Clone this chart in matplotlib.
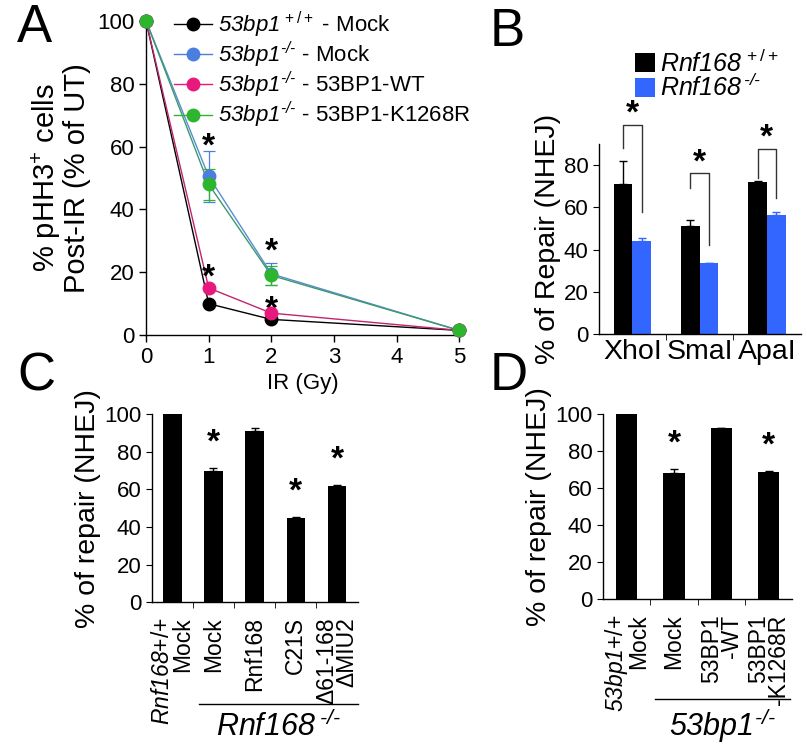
import numpy as np
import matplotlib
matplotlib.use("Agg")
import matplotlib.pyplot as plt

plt.rcParams['font.family'] = ['Liberation Sans', 'DejaVu Sans']
plt.rcParams['mathtext.fontset'] = 'custom'
plt.rcParams['mathtext.rm'] = 'Liberation Sans'
plt.rcParams['mathtext.it'] = 'Liberation Sans:italic'
plt.rcParams['mathtext.sf'] = 'Liberation Sans:italic'
plt.rcParams['mathtext.bf'] = 'Liberation Sans:bold'

HY = "\u2010"  # plain hyphen, avoids mathtext minus spacing
KO = r"^{\mathsf{" + HY + "/" + HY + "}}"

# ---- Panel A data ----
ir_dose = [0, 1, 2, 5]
a_labels = [r"$\mathsf{53bp1}^{\,+/+}$ - Mock",
            r"$\mathsf{53bp1}" + KO + "$ - Mock",
            r"$\mathsf{53bp1}" + KO + "$ - 53BP1-WT",
            r"$\mathsf{53bp1}" + KO + "$ - 53BP1-K1268R"]
a_wt_mock = [100, 10, 5, 1.5]
a_ko_mock = [100, 50.5, 19.5, 1.5]
a_ko_wt = [100, 15, 7, 1.5]
a_ko_k1268r = [100, 48, 19, 1.5]
a_ko_mock_err = [0, 8, 3.5, 0]
a_ko_k1268r_err = [0, 5, 3, 0]
a_colors = ['black', '#4a7fe0', '#e8197d', '#2db52d']
a_line_colors = ['black', '#5b8ad8', '#c2246f', '#3a9a6a']
a_star_x = [1, 1, 2, 2]
a_star_y = [60, 18, 26.5, 8]

# ---- Panel B data ----
enzymes = ['XhoI', 'SmaI', 'ApaI']
b_wt = [71, 51, 72]
b_wt_err = [11, 3, 0.5]
b_ko = [44, 33.5, 56.5]
b_ko_err = [1.5, 0.3, 1]
b_bracket_top = [99, 76, 87.5]
b_left_leg = [88, 69, 74]
b_right_leg = [57.5, 42, 64.5]

# ---- Panel C data ----
c_cats = [r"$\mathsf{Rnf168}$+/+" + "\nMock", "Mock", "Rnf168", "C21S",
          "\u039461-168\n\u0394MIU2"]
c_vals = [100, 70, 91, 45, 62]
c_err = [0, 1.5, 1.5, 0.3, 0.6]
c_star = [False, True, False, True, True]

# ---- Panel D data ----
d_cats = [r"$\mathsf{53bp1}$+/+" + "\nMock", "Mock", "53BP1\n-WT", "53BP1\n-K1268R"]
d_vals = [100, 68.5, 92.5, 69]
d_err = [0, 1.8, 0.3, 0.5]
d_star = [False, True, False, True]

fig = plt.figure(figsize=(8.07, 7.48), dpi=100)


def style_axes(ax):
    ax.spines['top'].set_visible(False)
    ax.spines['right'].set_visible(False)
    ax.spines['left'].set_linewidth(1.0)
    ax.spines['bottom'].set_linewidth(1.0)


# ---------------- Panel A ----------------
axA = fig.add_axes([0.181, 0.552, 0.388, 0.420])
series = [a_wt_mock, a_ko_mock, a_ko_wt, a_ko_k1268r]
errs = [None, a_ko_mock_err, None, a_ko_k1268r_err]
for i, (vals, lab) in enumerate(zip(series, a_labels)):
    axA.plot(ir_dose, vals, '-', color=a_line_colors[i], lw=1.0, zorder=2)
    if errs[i] is not None:
        axA.errorbar(ir_dose, vals, yerr=errs[i], fmt='none', ecolor=a_colors[i],
                     elinewidth=0.9, capsize=4, capthick=0.9, zorder=3, clip_on=False)
    axA.plot(ir_dose, vals, 'o', color=a_colors[i], ms=9, zorder=4, clip_on=False)
    axA.plot([], [], '-o', color=a_colors[i], ms=9, lw=1.0, label=lab)
for sx, sy in zip(a_star_x, a_star_y):
    axA.text(sx, sy, '*', ha='center', va='center', fontsize=24, fontweight='bold')
axA.set_xlim(0, 5)
axA.set_ylim(0, 100)
axA.set_xticks([0, 1, 2, 3, 4, 5])
axA.set_yticks([0, 20, 40, 60, 80, 100])
axA.tick_params(labelsize=16, direction='out', length=5, width=1)
axA.set_xlabel('IR (Gy)', fontsize=16, labelpad=4)
axA.set_ylabel("% pHH3$^{+}$ cells\nPost-IR (% of UT)", fontsize=21, labelpad=4,
               linespacing=1.0)
style_axes(axA)
axA.legend(loc='upper left', bbox_to_anchor=(0.06, 1.065), frameon=False, fontsize=16,
           handlelength=1.7, handletextpad=0.3, labelspacing=0.0, borderaxespad=0)
fig.text(0.021, 0.962, 'A', fontsize=38, va='center')

# ---------------- Panel B ----------------
axB = fig.add_axes([0.742, 0.553, 0.250, 0.255])
xb = np.arange(len(enzymes))
bw = 0.28
axB.bar(xb - bw / 2, b_wt, bw, yerr=[np.zeros(3), b_wt_err], color='black',
        error_kw=dict(ecolor='black', elinewidth=1, capsize=3),
        label=r"$\mathsf{Rnf168}^{\,+/+}$")
axB.bar(xb + bw / 2, b_ko, bw, yerr=[np.zeros(3), b_ko_err], color='#3366ff',
        error_kw=dict(ecolor='#3366ff', elinewidth=1, capsize=3),
        label=r"$\mathsf{Rnf168}^{\,\mathsf{" + HY + "/" + HY + "}}$")
for i in range(len(enzymes)):
    xl, xr = xb[i] - bw / 2, xb[i] + bw / 2
    axB.plot([xl, xl, xr, xr], [b_left_leg[i], b_bracket_top[i], b_bracket_top[i], b_right_leg[i]],
             color='#333333', lw=1, clip_on=False)
    axB.text(xb[i], b_bracket_top[i] + 5, '*', ha='center', va='center', fontsize=24,
             fontweight='bold')
axB.set_xlim(-0.5, 2.5)
axB.set_ylim(0, 90)
axB.set_yticks([0, 20, 40, 60, 80])
axB.set_xticks(xb)
axB.set_xticklabels(enzymes, fontsize=20.5)
axB.set_xticks([0.5, 1.5], minor=True)
axB.tick_params(axis='x', which='major', length=0, pad=3)
axB.tick_params(axis='x', which='minor', length=4, direction='out')
axB.tick_params(axis='y', labelsize=16, length=4, direction='out')
axB.set_ylabel('% of Repair (NHEJ)', fontsize=20.5, labelpad=2)
style_axes(axB)
axB.legend(loc='lower left', bbox_to_anchor=(0.13, 1.17), frameon=False, fontsize=18,
           handlelength=0.8, handleheight=0.8, handletextpad=0.2, labelspacing=-0.1,
           borderaxespad=0)
fig.text(0.607, 0.957, 'B', fontsize=38, va='center')


# ---------------- Panels C & D ----------------
def repair_panel(rect, cats, vals, err, stars, group_label, group_x):
    ax = fig.add_axes(rect)
    x = np.arange(len(cats))
    ax.bar(x, vals, 0.45, yerr=[np.zeros(len(vals)), err], color='black',
           error_kw=dict(ecolor='black', elinewidth=1, capsize=3))
    for xi, v, e, s in zip(x, vals, err, stars):
        if s:
            ax.text(xi, v + e + 5, '*', ha='center', va='bottom', fontsize=24,
                    fontweight='bold')
    ax.set_xlim(-0.5, len(cats) - 0.5)
    ax.set_ylim(0, 100)
    ax.set_yticks([0, 20, 40, 60, 80, 100])
    ax.set_xticks(x)
    ax.set_xticklabels(cats, rotation=90, fontsize=16.5, va='top', ha='center',
                       multialignment='right', linespacing=0.85)
    ax.set_xticks(np.arange(0.5, len(cats) - 0.5), minor=True)
    ax.tick_params(axis='x', which='major', length=0, pad=11)
    ax.tick_params(axis='x', which='minor', length=4, direction='out')
    ax.tick_params(axis='y', labelsize=16, length=4, direction='out')
    ax.set_ylabel('% of repair (NHEJ)', fontsize=20.5, labelpad=2)
    style_axes(ax)
    ax.plot([group_x[0], group_x[1]], [-0.54, -0.54], color='black', lw=1,
            transform=ax.get_xaxis_transform(), clip_on=False)
    ax.text(np.mean(group_x), -0.58, group_label, ha='center', va='top', fontsize=22,
            transform=ax.get_xaxis_transform())
    return ax


axC = repair_panel([0.188, 0.195, 0.255, 0.251], c_cats, c_vals, c_err, c_star,
                   r"$\mathsf{Rnf168}^{\;\mathsf{" + HY + "/" + HY + "}}$", [0.65, 4.5])
fig.text(0.022, 0.497, 'C', fontsize=38, va='center')

axD = repair_panel([0.747, 0.199, 0.235, 0.247], d_cats, d_vals, d_err, d_star,
                   r"$\mathsf{53bp1}" + KO + "$", [0.6, 3.45])
fig.text(0.607, 0.497, 'D', fontsize=38, va='center')

fig.savefig('out.png', dpi=100)
